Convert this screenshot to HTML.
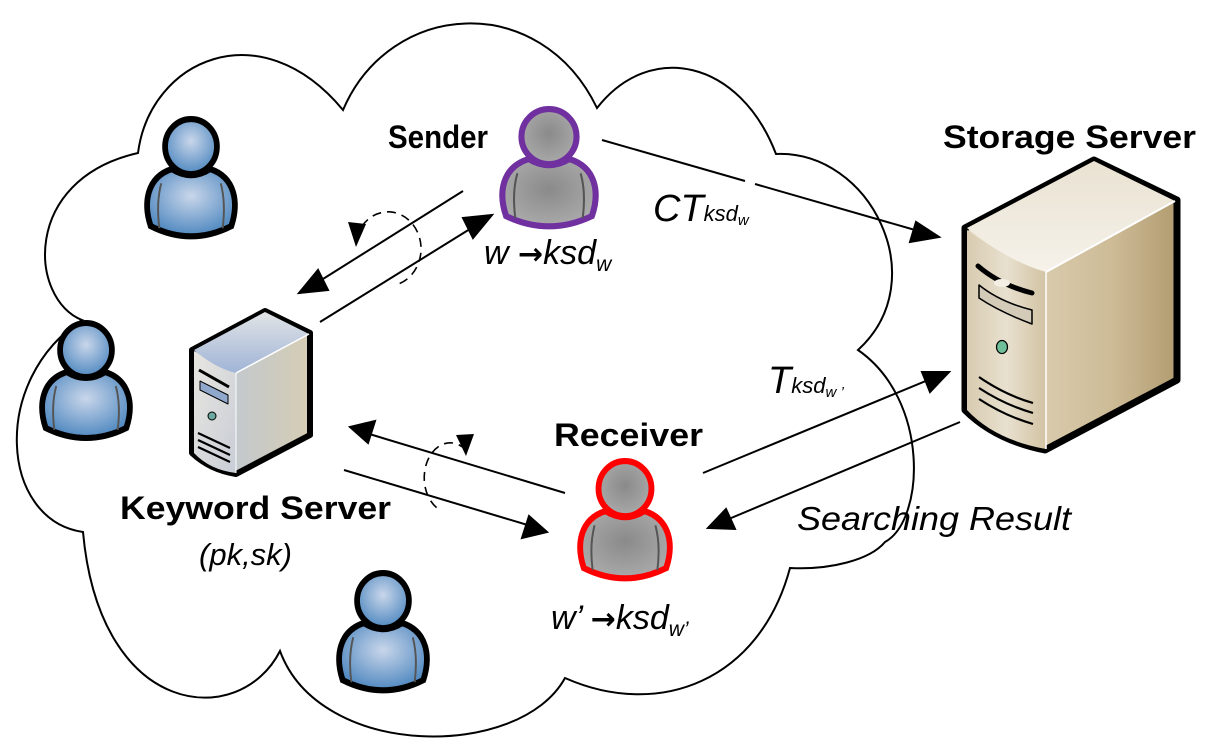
<!DOCTYPE html>
<html><head><meta charset="utf-8"><style>
html,body{margin:0;padding:0;background:#fff;}
svg{display:block;}
text{font-family:"Liberation Sans",Arial,sans-serif;}
</style></head><body>
<svg width="1205" height="749" viewBox="0 0 1205 749" xmlns="http://www.w3.org/2000/svg">
<defs>
<radialGradient id="blue" cx="0.5" cy="0.4" r="0.6"><stop offset="0" stop-color="#c9d6ea"/><stop offset="1" stop-color="#4f88c0"/></radialGradient>
<radialGradient id="gray" cx="0.5" cy="0.45" r="0.6"><stop offset="0" stop-color="#8a8a8a"/><stop offset="1" stop-color="#acacac"/></radialGradient>
<linearGradient id="ksfront" x1="0" y1="0" x2="1" y2="1"><stop offset="0" stop-color="#e8e6e0"/><stop offset="1" stop-color="#c8cdd6"/></linearGradient>
<linearGradient id="ksside" x1="0" y1="0" x2="1" y2="0"><stop offset="0" stop-color="#b8c6dc"/><stop offset="1" stop-color="#d6cdb4"/></linearGradient>
<linearGradient id="kstop" x1="0" y1="0" x2="0" y2="1"><stop offset="0" stop-color="#e2e4e6"/><stop offset="1" stop-color="#9fb4d6"/></linearGradient>
<linearGradient id="ssfront" x1="0" y1="0" x2="1" y2="0"><stop offset="0" stop-color="#d8cbb0"/><stop offset="0.5" stop-color="#e8e0cf"/><stop offset="1" stop-color="#d2c3a3"/></linearGradient>
<linearGradient id="ssside" x1="0" y1="0" x2="1" y2="0"><stop offset="0" stop-color="#e6dcc6"/><stop offset="0.7" stop-color="#cdbb96"/><stop offset="1" stop-color="#b29c70"/></linearGradient>
<linearGradient id="sstop" x1="0" y1="0" x2="0" y2="1"><stop offset="0" stop-color="#e9e2d2"/><stop offset="1" stop-color="#f6f2ea"/></linearGradient>
<g id="person">
<path d="M8,108 C0,85 4,60 30,52 Q50,64 70,52 C96,60 100,85 92,108 Q50,128 8,108 Z"/>
<path d="M19,66 C15,80 15,95 17,110 M81,66 C85,80 85,95 83,110" fill="none" stroke="#555" stroke-width="2"/>
<circle cx="50" cy="30" r="27"/>
</g>
</defs>

<!-- cloud -->
<path d="M82,320 C30,300 20,180 138,153 C150,60 260,10 343,110 C390,0 540,-10 597,108 C650,40 740,60 776,154 C870,150 935,280 858,350 C930,400 925,520 885,542 C870,560 830,570 790,568 C760,680 660,720 565,678 C520,760 320,760 280,651 C240,730 100,720 83,532 C0,520 -10,380 82,320 Z" fill="#fff" stroke="#000" stroke-width="2"/>

<!-- blue persons -->
<g fill="url(#blue)" stroke="#000" stroke-width="6">
<use href="#person" transform="translate(143,116) scale(0.96,1.02)"/>
<use href="#person" transform="translate(38,320) scale(0.96,1)"/>
<use href="#person" transform="translate(335,570) scale(0.96,1.02)"/>
</g>
<g fill="url(#gray)" stroke="#7030a0" stroke-width="6">
<use href="#person" transform="translate(498,106) scale(1.02,1.02)"/>
</g>
<g fill="url(#gray)" stroke="#ff0000" stroke-width="6">
<use href="#person" transform="translate(576,458) scale(0.98,1.02)"/>
</g>

<!-- keyword server -->
<g stroke="#000" stroke-linejoin="round">
<path d="M192,350 L265,311 L310,333 L310,435 L236,474 Q210,470 192,453 Z" fill="url(#ksside)" stroke-width="6"/>
<path d="M194,351 Q220,368 236,373 L236,473 Q210,470 194,453 Z" fill="url(#ksfront)" stroke="none"/>
<path d="M194,350 L265,312 L309,334 L236,373 Q215,368 194,350 Z" fill="url(#kstop)" stroke="none"/>
<line x1="236" y1="373" x2="309" y2="334" stroke="#fff" stroke-width="1.5"/>
<line x1="236" y1="373" x2="236" y2="473" stroke="#fff" stroke-width="1"/>
<path d="M199,370 L229,387" stroke-width="3"/>
<path d="M200,381 L228,395 L228,404 L200,390 Z" fill="#8fa8cc" stroke-width="1"/>
<circle cx="212" cy="416" r="4" fill="#6aa8a0" stroke-width="1"/>
<path d="M198,433 L230,448 M198,440 L230,455 M198,447 L230,462" stroke-width="2.2" fill="none"/>
</g>

<!-- storage server -->
<g stroke="#000" stroke-linejoin="round">
<path d="M965,228 L1094,160 L1177,200 L1177,380 L1045,450 Q995,440 965,410 Z" fill="url(#ssside)" stroke-width="7"/>
<path d="M967,230 Q1010,262 1046,272 L1046,449 Q995,440 967,410 Z" fill="url(#ssfront)" stroke="none"/>
<path d="M967,228 L1094,161 L1175,201 L1046,272 Q1005,260 967,228 Z" fill="url(#sstop)" stroke="none"/>
<line x1="1046" y1="272" x2="1175" y2="201" stroke="#fff" stroke-width="2"/>
<line x1="1046" y1="272" x2="1046" y2="449" stroke="#fff" stroke-width="1.5"/>
<path d="M978,266 Q1000,285 1032,293" stroke-width="5" fill="none" stroke-linecap="round"/>
<ellipse cx="1002" cy="283" rx="8" ry="4" fill="#f4efe4" stroke="none"/>
<path d="M979,285 Q1000,302 1032,310 L1032,324 Q1000,312 979,298 Z" fill="#d4cab8" stroke-width="1.5"/>
<ellipse cx="1002" cy="347" rx="5.5" ry="6.5" fill="#6fbf9a" stroke-width="1.2"/>
<path d="M979,377 Q1005,395 1033,403 M979,388 Q1005,405 1033,413 M979,399 Q1005,416 1033,424" stroke-width="2.2" fill="none"/>
</g>

<!-- arrows -->
<g stroke="#000" stroke-width="2" fill="#000">
<line x1="463" y1="191" x2="315" y2="284"/>
<polygon points="299,293 318,270 328,290"/>
<line x1="320" y1="322" x2="478" y2="224"/>
<polygon points="492,215 473,238 463,218"/>
<line x1="602" y1="140" x2="745" y2="181"/>
<line x1="755" y1="184" x2="922" y2="232"/>
<polygon points="939,237 910,242 916,222"/>
<line x1="565" y1="493" x2="366" y2="433"/>
<polygon points="350,427 375,421 368,443"/>
<line x1="344" y1="470" x2="531" y2="526"/>
<polygon points="547,532 522,538 529,516"/>
<line x1="703" y1="473" x2="933" y2="378"/>
<polygon points="949,372 930,392 922,372"/>
<line x1="960" y1="422" x2="724" y2="521"/>
<polygon points="708,528 726,509 735,529"/>
</g>
<!-- dashed loops -->
<g fill="none" stroke="#000" stroke-width="1.6" stroke-dasharray="9,6">
<path d="M356,240 A33,37 0 1 1 395,285"/>
<path d="M466,450 A26,35 0 1 0 440,510"/>
</g>
<g fill="#000">
<polygon points="356,247 348,222 366,224"/>
<polygon points="466,456 456,435 474,434"/>
</g>

<!-- labels -->
<g font-weight="bold" font-size="32" fill="#000">
<text x="388" y="148" textLength="100" lengthAdjust="spacingAndGlyphs">Sender</text>
<text x="943" y="148" textLength="253" lengthAdjust="spacingAndGlyphs">Storage Server</text>
<text x="120" y="519" textLength="271" lengthAdjust="spacingAndGlyphs">Keyword Server</text>
<text x="554" y="446" textLength="149" lengthAdjust="spacingAndGlyphs">Receiver</text>
</g>
<g font-style="italic" fill="#000">
<text x="199" y="565" font-size="31">(pk,sk)</text>
<text x="484" y="264" font-size="34">w <tspan font-family="DejaVu Sans" font-style="normal" font-weight="bold" font-size="30">→</tspan>ksd<tspan font-size="21" dy="7">w</tspan></text>
<text x="551" y="629" font-size="34">w’ <tspan font-family="DejaVu Sans" font-style="normal" font-weight="bold" font-size="30">→</tspan>ksd<tspan font-size="21" dy="7">w’</tspan></text>
<text x="653" y="221" font-size="38">CT<tspan font-size="22">ksd</tspan><tspan font-size="15" dy="4">w</tspan></text>
<text x="768" y="393" font-size="38">T<tspan font-size="22">ksd</tspan><tspan font-size="15" dy="4">w ’</tspan></text>
<text x="797" y="530" font-size="33" textLength="274" lengthAdjust="spacingAndGlyphs">Searching Result</text>
</g>
</svg>
</body></html>
